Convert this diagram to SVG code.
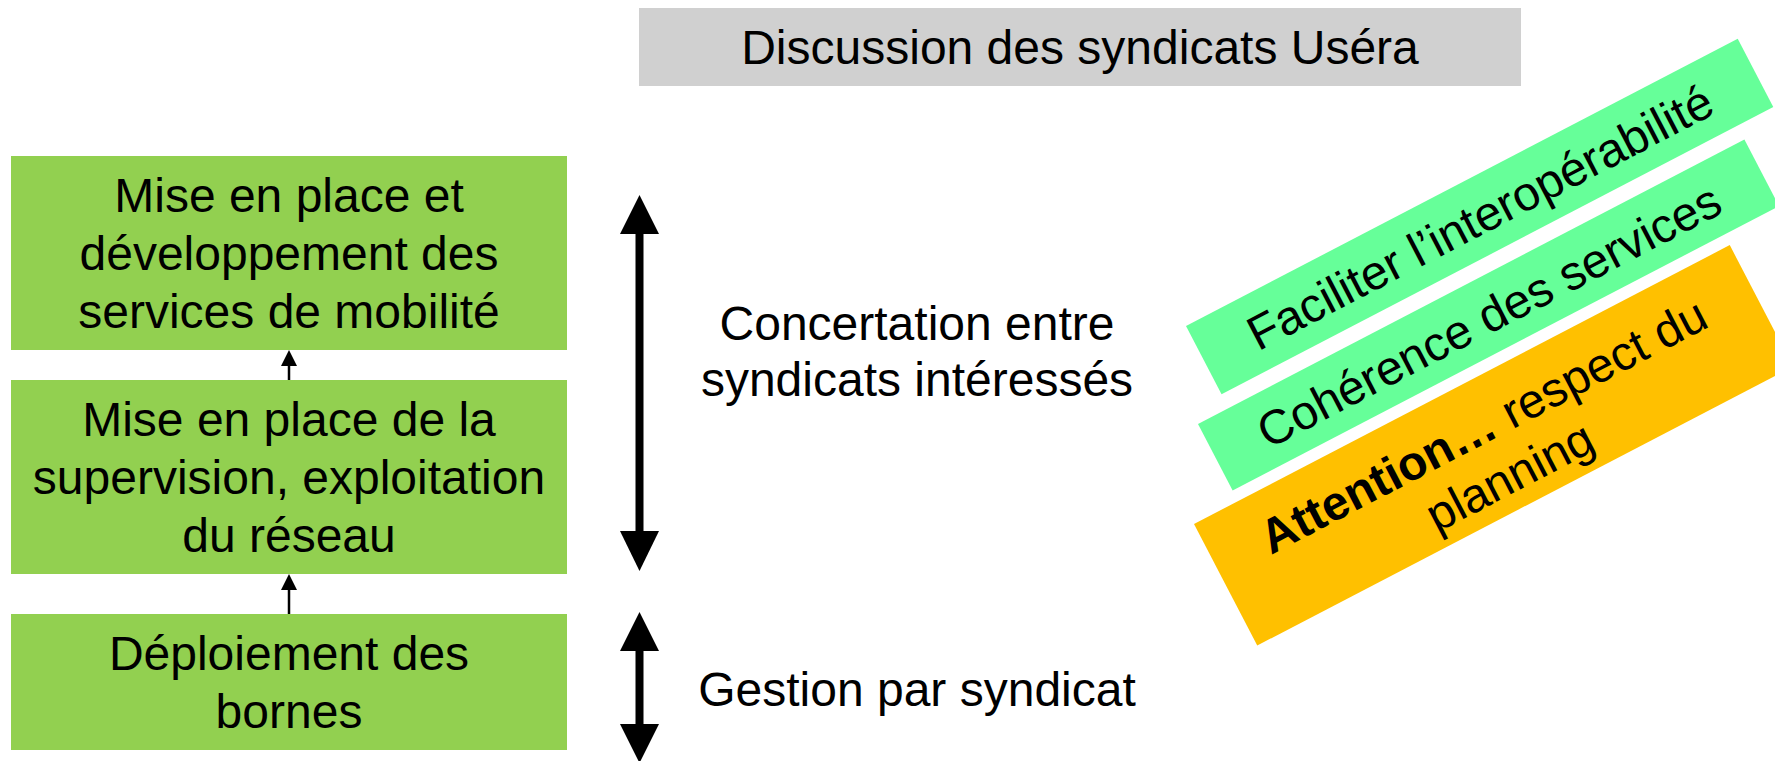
<svg xmlns="http://www.w3.org/2000/svg" width="1775" height="761" viewBox="0 0 1775 761">
  <style>
    text { font-family: "Liberation Sans", Arial, sans-serif; font-size: 48px; fill: #000; }
    .c { text-anchor: middle; }
    .box { fill: #92D050; }
    .band { fill: #66FF99; }
    .warn { fill: #FFC000; }
    .head { fill: #000; }
  </style>
  <rect width="1775" height="761" fill="#fff"/>

  <g id="title">
    <rect x="639" y="8" width="882" height="78" fill="#D0D0D0"/>
    <text class="c" x="1080" y="64">Discussion des syndicats Uséra</text>
  </g>

  <g id="node-services">
    <rect class="box" x="11" y="156" width="556" height="194"/>
    <text class="c" x="289" y="212">Mise en place et</text>
    <text class="c" x="289" y="270">développement des</text>
    <text class="c" x="289" y="328">services de mobilité</text>
  </g>

  <g id="node-supervision">
    <rect class="box" x="11" y="380" width="556" height="194"/>
    <text class="c" x="289" y="436">Mise en place de la</text>
    <text class="c" x="289" y="494">supervision, exploitation</text>
    <text class="c" x="289" y="552">du réseau</text>
  </g>

  <g id="node-bornes">
    <rect class="box" x="11" y="614" width="556" height="136"/>
    <text class="c" x="289" y="670">Déploiement des</text>
    <text class="c" x="289" y="728">bornes</text>
  </g>

  <g id="connectors">
    <line x1="289" y1="380" x2="289" y2="364" stroke="#000" stroke-width="2.5"/>
    <polygon class="head" points="289,350 281,366 297,366"/>
    <line x1="289" y1="614" x2="289" y2="587" stroke="#000" stroke-width="2.5"/>
    <polygon class="head" points="289,574 281,590 297,590"/>

    <rect x="635.5" y="232" width="8" height="301" fill="#000"/>
    <polygon class="head" points="639.5,195 620,234 659,234"/>
    <polygon class="head" points="639.5,571 620,531 659,531"/>

    <rect x="635.5" y="649" width="8" height="77" fill="#000"/>
    <polygon class="head" points="639.5,612 620,651 659,651"/>
    <polygon class="head" points="639.5,763 620,724 659,724"/>
  </g>

  <g id="label-concertation">
    <text class="c" x="917" y="340">Concertation entre</text>
    <text class="c" x="917" y="396">syndicats intéressés</text>
  </g>
  <g id="label-gestion">
    <text class="c" x="917" y="706">Gestion par syndicat</text>
  </g>

  <g id="band-interop" transform="translate(1186,326) rotate(-27.5)">
    <rect class="band" x="0" y="0" width="622" height="77"/>
    <text class="c" x="311" y="56">Faciliter l’interopérabilité</text>
  </g>
  <g id="band-coherence" transform="translate(1198,424) rotate(-27.5)">
    <rect class="band" x="0" y="0" width="616" height="75"/>
    <text class="c" x="308" y="55">Cohérence des services</text>
  </g>
  <g id="band-planning" transform="translate(1194,524) rotate(-27.5)">
    <rect class="warn" x="0" y="0" width="604" height="137"/>
    <text class="c" x="302" y="63"><tspan font-weight="bold">Attention…</tspan> respect du</text>
    <text class="c" x="302" y="120">planning</text>
  </g>
</svg>
